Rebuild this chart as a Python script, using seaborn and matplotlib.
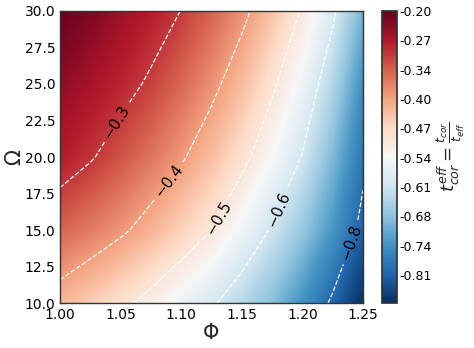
import numpy as np
import matplotlib
matplotlib.use("Agg")
import matplotlib.pyplot as plt
import seaborn as sns

# =====================================================
# DATA
# =====================================================

phi = [1.000, 1.025, 1.050, 1.075, 1.100, 1.125, 1.150, 1.175, 1.200, 1.225, 1.250]
omega = [10.0, 15.0, 20.0, 25.0, 30.0]

# t_cor^eff along phi, one row per omega
t_omega10 = [-0.428, -0.455, -0.486, -0.519, -0.555, -0.592, -0.635, -0.683, -0.745, -0.810, -0.877]
t_omega15 = [-0.340, -0.364, -0.390, -0.423, -0.461, -0.500, -0.552, -0.606, -0.668, -0.738, -0.818]
t_omega20 = [-0.271, -0.295, -0.325, -0.358, -0.393, -0.435, -0.484, -0.540, -0.603, -0.690, -0.785]
t_omega25 = [-0.237, -0.258, -0.281, -0.308, -0.344, -0.385, -0.433, -0.490, -0.555, -0.640, -0.750]
t_omega30 = [-0.200, -0.222, -0.247, -0.273, -0.301, -0.340, -0.385, -0.440, -0.506, -0.588, -0.700]

contour_levels = [-0.8, -0.6, -0.5, -0.4, -0.3]
cbar_ticks = [-0.200, -0.268, -0.336, -0.404, -0.472, -0.540, -0.608, -0.676, -0.744, -0.812]

# =====================================================
# STYLE
# =====================================================

sns.set_theme(style="white")
plt.rcParams["font.family"] = ["DejaVu Sans"]
plt.rcParams["text.color"] = "black"
plt.rcParams["xtick.color"] = "black"
plt.rcParams["ytick.color"] = "black"

cmap = sns.color_palette("RdBu_r", as_cmap=True)

# =====================================================
# PLOT
# =====================================================

Z = np.array([t_omega10, t_omega15, t_omega20, t_omega25, t_omega30])
X, Y = np.meshgrid(phi, omega)
vmin, vmax = Z.min(), Z.max()

fig = plt.figure(figsize=(4.74, 3.48), dpi=100)
ax = fig.add_axes([0.1266, 0.1293, 0.6392, 0.8391])
cax = fig.add_axes([0.8055, 0.1293, 0.0316, 0.8391])

cf = ax.contourf(X, Y, Z, levels=np.linspace(vmin, vmax, 256), cmap=cmap,
                 vmin=vmin, vmax=vmax)
cs = ax.contour(X, Y, Z, levels=contour_levels, colors="white",
                linestyles="--", linewidths=0.9)
ax.clabel(cs, inline=True, fontsize=11, colors="black",
          manual=[(1.045, 22.5), (1.091, 18.3), (1.130, 15.9),
                  (1.181, 16.4), (1.242, 14.1)])

ax.set_xlim(1.0, 1.25)
ax.set_ylim(10, 30)
ax.set_xticks([1.00, 1.05, 1.10, 1.15, 1.20, 1.25])
ax.set_yticks([10.0, 12.5, 15.0, 17.5, 20.0, 22.5, 25.0, 27.5, 30.0])
ax.xaxis.set_major_formatter(matplotlib.ticker.FormatStrFormatter("%.2f"))
ax.yaxis.set_major_formatter(matplotlib.ticker.FormatStrFormatter("%.1f"))
ax.tick_params(direction="in", length=4, width=0.8, labelsize=10,
               bottom=True, left=True)
ax.set_xlabel("Φ", fontsize=15, labelpad=1)
ax.set_ylabel("Ω", fontsize=15, labelpad=0)
for sp in ax.spines.values():
    sp.set_color("#333333")
    sp.set_linewidth(1.0)

cbar = fig.colorbar(cf, cax=cax, ticks=cbar_ticks, format="%.2f")
cbar.ax.tick_params(direction="in", length=4, width=0.8, labelsize=9, pad=2)
cbar.outline.set_edgecolor("#333333")
cbar.set_label(r"$t_{cor}^{eff}=\frac{t_{cor}}{t_{eff}}$", fontsize=13, labelpad=2)

plt.savefig("out.png", dpi=100)
plt.close()
